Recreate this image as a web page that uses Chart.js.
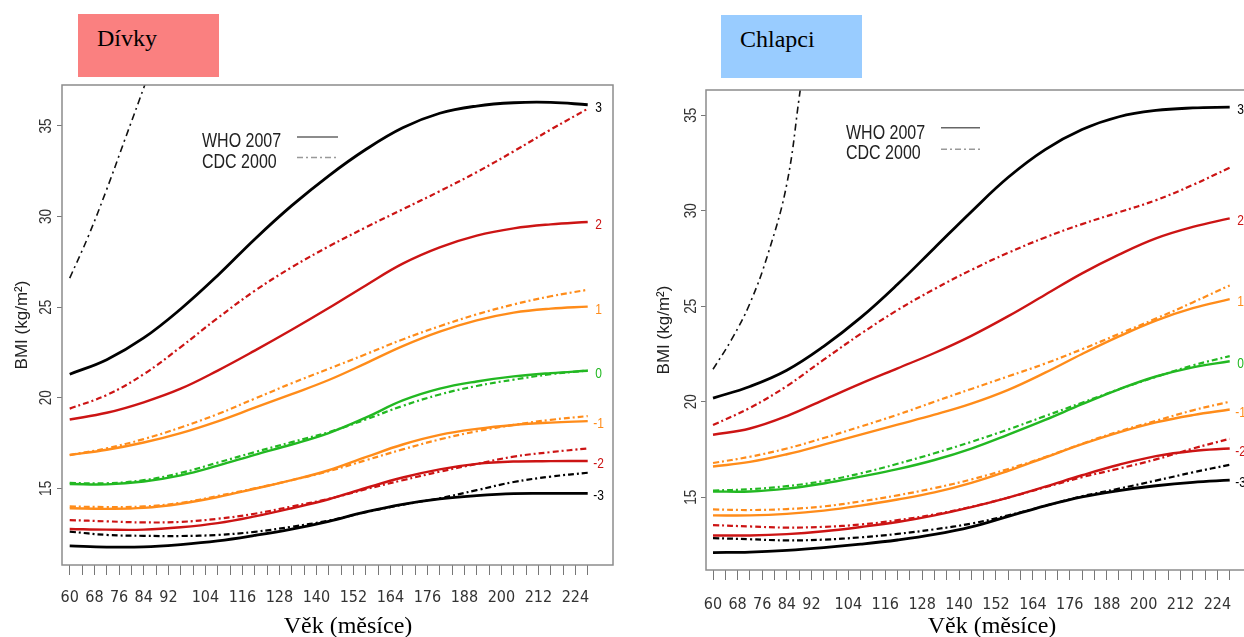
<!DOCTYPE html>
<html>
<head>
<meta charset="utf-8">
<script src="https://cdn.jsdelivr.net/npm/chart.js@4.4.1/dist/chart.umd.min.js"></script>
<style>
  html, body { margin: 0; padding: 0; background: #fff; width: 1244px; height: 637px; overflow: hidden; position: relative; }
  canvas { position: absolute; top: 0; }
  #girls { left: 0; }
  #boys { left: 640px; }
  .tag { position: absolute; height: 63px; width: 141px; }
  .tag span, .xtitle { position: absolute; font-family: 'Liberation Serif', 'Times New Roman', serif; font-size: 24px; line-height: 24px; color: #000; white-space: nowrap; }
  #tagGirls { left: 78px; top: 14px; background: #fa8080; }
  #tagBoys { left: 721px; top: 15px; background: #99ccff; }
  .tag span { left: 19px; top: 12px; }
  .xtitle { top: 613px; width: 300px; text-align: center; }
</style>
</head>
<body>
<canvas id="girls" width="640" height="637"></canvas>
<canvas id="boys" width="620" height="637"></canvas>
<div class="tag" id="tagGirls"><span>Dívky</span></div>
<div class="tag" id="tagBoys"><span>Chlapci</span></div>
<div class="xtitle" style="left:198px">Věk (měsíce)</div>
<div class="xtitle" style="left:842px">Věk (měsíce)</div>
<script>
const months = [60, 72, 84, 96, 108, 120, 132, 144, 156, 168, 180, 192, 204, 216, 228];
const xTickLabels = [60, 68, 76, 84, 92, 104, 116, 128, 140, 152, 164, 176, 188, 200, 212, 224];
const yTickValues = [15, 20, 25, 30, 35];
const zLabels = ['3', '2', '1', '0', '-1', '-2', '-3'];

// girls - WHO 2007 (solid), z = 3 .. -3
const girlsWho3 = [21.3, 22.1, 23.3, 24.9, 26.75, 28.75, 30.6, 32.25, 33.7, 34.9, 35.7, 36.1, 36.28, 36.3, 36.17];
const girlsWho2 = [18.8, 19.17, 19.75, 20.5, 21.5, 22.6, 23.75, 24.95, 26.2, 27.4, 28.3, 28.95, 29.35, 29.57, 29.7];
const girlsWho1 = [16.84, 17.13, 17.53, 18.05, 18.7, 19.45, 20.2, 20.98, 21.9, 22.85, 23.65, 24.27, 24.7, 24.92, 25.03];
const girlsWho0 = [15.24, 15.22, 15.38, 15.72, 16.25, 16.85, 17.42, 18.05, 18.9, 19.85, 20.5, 20.9, 21.18, 21.36, 21.49];
const girlsWhoM1 = [13.9, 13.87, 13.92, 14.15, 14.52, 14.98, 15.45, 16.0, 16.72, 17.42, 17.95, 18.28, 18.5, 18.63, 18.71];
const girlsWhoM2 = [12.76, 12.72, 12.72, 12.85, 13.08, 13.45, 13.9, 14.4, 15.02, 15.6, 16.05, 16.35, 16.48, 16.5, 16.51];
const girlsWhoM3 = [11.82, 11.76, 11.77, 11.9, 12.1, 12.4, 12.75, 13.18, 13.7, 14.12, 14.42, 14.6, 14.71, 14.72, 14.72];

// girls - CDC 2000 (dash-dot); z = 3 leaves the plot early
const girlsCdc3Months = [60, 66, 72, 78, 84, 90];
const girlsCdc3 = [26.6, 28.9, 31.5, 34.3, 37.1, 40.0];
const girlsCdc2 = [19.4, 20.15, 21.3, 22.8, 24.4, 25.9, 27.2, 28.35, 29.4, 30.4, 31.4, 32.45, 33.6, 34.8, 35.95];
const girlsCdc1 = [16.84, 17.21, 17.72, 18.36, 19.1, 19.95, 20.8, 21.6, 22.4, 23.22, 23.95, 24.6, 25.15, 25.6, 25.96];
const girlsCdc0 = [15.3, 15.28, 15.45, 15.85, 16.42, 17.0, 17.55, 18.1, 18.8, 19.55, 20.18, 20.65, 21.0, 21.3, 21.5];
const girlsCdcM1 = [14.0, 13.97, 14.0, 14.2, 14.58, 15.0, 15.45, 15.95, 16.55, 17.15, 17.7, 18.15, 18.5, 18.78, 18.99];
const girlsCdcM2 = [13.25, 13.18, 13.12, 13.15, 13.32, 13.6, 14.0, 14.42, 14.95, 15.45, 15.92, 16.35, 16.75, 17.0, 17.2];
const girlsCdcM3 = [12.61, 12.43, 12.38, 12.37, 12.43, 12.6, 12.88, 13.22, 13.68, 14.1, 14.45, 14.9, 15.35, 15.65, 15.86];

// boys - WHO 2007
const boysWho3 = [20.19, 20.8, 21.65, 22.9, 24.4, 26.15, 28.05, 29.95, 31.75, 33.2, 34.25, 34.92, 35.25, 35.38, 35.42];
const boysWho2 = [18.27, 18.6, 19.25, 20.1, 20.95, 21.75, 22.55, 23.45, 24.48, 25.6, 26.72, 27.7, 28.55, 29.15, 29.6];
const boysWho1 = [16.61, 16.85, 17.25, 17.75, 18.28, 18.8, 19.32, 19.9, 20.62, 21.52, 22.5, 23.42, 24.25, 24.9, 25.37];
const boysWho0 = [15.3, 15.3, 15.45, 15.72, 16.08, 16.47, 16.95, 17.55, 18.28, 19.05, 19.87, 20.65, 21.32, 21.8, 22.12];
const boysWhoM1 = [14.05, 14.05, 14.13, 14.3, 14.56, 14.88, 15.25, 15.75, 16.38, 17.08, 17.78, 18.4, 18.92, 19.3, 19.59];
const boysWhoM2 = [13.0, 13.0, 13.07, 13.22, 13.44, 13.7, 14.05, 14.48, 14.98, 15.55, 16.15, 16.7, 17.15, 17.42, 17.55];
const boysWhoM3 = [12.1, 12.13, 12.22, 12.36, 12.54, 12.76, 13.05, 13.45, 14.0, 14.55, 15.02, 15.35, 15.6, 15.78, 15.89];

// boys - CDC 2000
const boysCdc3Months = [60, 66, 72, 78, 84, 88, 92];
const boysCdc3 = [21.7, 23.25, 25.15, 27.8, 31.4, 35.9, 40.8];
const boysCdc2 = [18.78, 19.68, 20.82, 22.2, 23.55, 24.8, 25.9, 26.9, 27.8, 28.6, 29.3, 29.92, 30.55, 31.35, 32.25];
const boysCdc1 = [16.79, 17.12, 17.55, 18.1, 18.7, 19.32, 20.0, 20.67, 21.33, 22.0, 22.75, 23.55, 24.35, 25.2, 26.09];
const boysCdc0 = [15.35, 15.42, 15.58, 15.85, 16.25, 16.75, 17.3, 17.9, 18.55, 19.25, 19.95, 20.65, 21.3, 21.9, 22.39];
const boysCdcM1 = [14.36, 14.33, 14.38, 14.52, 14.78, 15.1, 15.48, 15.93, 16.48, 17.1, 17.8, 18.45, 19.0, 19.55, 20.0];
const boysCdcM2 = [13.54, 13.47, 13.41, 13.45, 13.57, 13.8, 14.1, 14.5, 14.98, 15.52, 16.05, 16.5, 16.98, 17.55, 18.06];
const boysCdcM3 = [12.86, 12.8, 12.74, 12.78, 12.9, 13.08, 13.32, 13.62, 14.05, 14.55, 15.05, 15.45, 15.87, 16.3, 16.7];

const zColors = ['#000000', '#cc1414', '#ff8c1a', '#22b822', '#ff8c1a', '#cc1414', '#000000'];
const sans = "'Liberation Sans', Arial, sans-serif";
const tickFont = "'Liberation Sans Narrow', 'DejaVu Sans Condensed', 'Liberation Sans', Arial, sans-serif";

// tick marks every 4 months, labels only where the figure has them
const tickMonths = [];
for (let m = 60; m <= 228; m += 4) tickMonths.push(m);

function toPoints(xs, ys) {
  return xs.map((x, i) => ({ x: x, y: ys[i] }));
}

// condensed text, like the R figure
function narrowText(ctx, text, x, y, size, align, color, rot) {
  ctx.save();
  ctx.translate(x, y);
  if (rot) ctx.rotate(rot);
  ctx.scale(0.8, 1);
  ctx.font = size + 'px ' + sans;
  ctx.fillStyle = color;
  ctx.textAlign = align;
  ctx.textBaseline = rot ? 'middle' : 'alphabetic';
  ctx.fillText(text, 0, 0);
  ctx.restore();
}

function makePanel(id, geom, who, cdc, cdc3Months, cdc3) {
  const datasets = [];
  who.forEach((vals, i) => datasets.push({
    data: toPoints(months, vals),
    borderColor: zColors[i],
    borderWidth: (i === 0 || i === 6) ? 2.8 : 2.4
  }));
  cdc.forEach((vals, k) => datasets.push({
    data: toPoints(months, vals),
    borderColor: zColors[k + 1],
    borderWidth: 2.2,
    borderDash: [6, 3, 2, 3]
  }));
  datasets.push({
    data: toPoints(cdc3Months, cdc3),
    borderColor: '#111111',
    borderWidth: 1.6,
    borderDash: [7, 4, 2, 4]
  });

  const decor = {
    id: 'decor',
    afterDraw(chart) {
      const ctx = chart.ctx;
      const ca = chart.chartArea;
      const xs = chart.scales.x;
      const ys = chart.scales.y;
      // plot box
      ctx.save();
      ctx.strokeStyle = '#8c8c8c';
      ctx.lineWidth = 1.5;
      ctx.strokeRect(ca.left, ca.top, ca.right - ca.left, ca.bottom - ca.top);
      ctx.restore();
      // rotated y tick labels
      yTickValues.forEach(v => narrowText(ctx, String(v), geom.yLabelX, ys.getPixelForValue(v), 17, 'center', '#333', -Math.PI / 2));
      // z labels at the end of the WHO curves
      who.forEach((vals, i) => narrowText(ctx, zLabels[i], xs.getPixelForValue(231.5),
        ys.getPixelForValue(vals[vals.length - 1]) + 7, 15, 'center', zColors[i]));
      // legend
      const lg = geom.legend;
      narrowText(ctx, 'WHO 2007', lg.x, lg.y1, 20, 'left', '#222');
      narrowText(ctx, 'CDC 2000', lg.x, lg.y2, 20, 'left', '#222');
      ctx.save();
      ctx.strokeStyle = '#666';
      ctx.lineWidth = 1.5;
      ctx.beginPath();
      ctx.moveTo(lg.lx1, lg.ly1); ctx.lineTo(lg.lx2, lg.ly1);
      ctx.stroke();
      ctx.strokeStyle = '#999';
      ctx.setLineDash([6, 3, 2, 3]);
      ctx.beginPath();
      ctx.moveTo(lg.lx1, lg.ly2); ctx.lineTo(lg.lx2, lg.ly2);
      ctx.stroke();
      ctx.restore();
    }
  };

  return new Chart(document.getElementById(id), {
    type: 'line',
    data: { datasets },
    plugins: [decor],
    options: {
      responsive: false,
      animation: false,
      devicePixelRatio: 1,
      layout: { autoPadding: false, padding: { top: geom.padTop, right: geom.padRight, left: 0, bottom: 0 } },
      elements: {
        point: { radius: 0 },
        line: { tension: 0.4, fill: false, borderCapStyle: 'butt' }
      },
      plugins: { legend: { display: false }, tooltip: { enabled: false }, title: { display: false } },
      scales: {
        x: {
          type: 'linear',
          min: geom.xMin,
          max: geom.xMax,
          afterBuildTicks: s => { s.ticks = tickMonths.map(v => ({ value: v })); },
          afterFit: s => { s.height = geom.xHeight; },
          border: { display: false },
          grid: { drawOnChartArea: false, drawTicks: true, tickLength: 10, color: '#777', lineWidth: 1 },
          ticks: {
            autoSkip: false,
            maxRotation: 0,
            padding: geom.tickPad,
            color: '#333',
            font: { family: tickFont, size: 16 },
            callback: v => xTickLabels.includes(v) ? String(v) : ''
          }
        },
        y: {
          type: 'linear',
          min: geom.yMin,
          max: geom.yMax,
          afterBuildTicks: s => { s.ticks = yTickValues.map(v => ({ value: v })); },
          afterFit: s => { s.width = geom.yWidth; },
          border: { display: false },
          grid: { drawOnChartArea: false, drawTicks: true, tickLength: 5, color: '#777', lineWidth: 1 },
          ticks: { display: false },
          title: {
            display: true,
            text: 'BMI (kg/m²)',
            color: '#222',
            font: { family: sans, size: 17 },
            padding: { top: geom.titlePad, bottom: 0 }
          }
        }
      }
    }
  });
}

makePanel('girls', {
  xMin: 57.5, xMax: 236.2, yMin: 10.77, yMax: 37.26,
  padTop: 85, padRight: 27, yWidth: 62, xHeight: 72, titlePad: 12, yLabelX: 46, tickPad: 13,
  legend: { x: 202, y1: 147, y2: 168, lx1: 297, lx2: 338, ly1: 137, ly2: 157.5 }
}, [girlsWho3, girlsWho2, girlsWho1, girlsWho0, girlsWhoM1, girlsWhoM2, girlsWhoM3],
   [girlsCdc2, girlsCdc1, girlsCdc0, girlsCdcM1, girlsCdcM2, girlsCdcM3],
   girlsCdc3Months, girlsCdc3);

makePanel('boys', {
  xMin: 57.72, xMax: 234.6, yMin: 11.19, yMax: 36.32,
  padTop: 90, padRight: 10, yWidth: 66, xHeight: 67, titlePad: 14, yLabelX: 51, tickPad: 15,
  legend: { x: 206, y1: 138.5, y2: 159, lx1: 301, lx2: 340, ly1: 127.7, ly2: 149.3 }
}, [boysWho3, boysWho2, boysWho1, boysWho0, boysWhoM1, boysWhoM2, boysWhoM3],
   [boysCdc2, boysCdc1, boysCdc0, boysCdcM1, boysCdcM2, boysCdcM3],
   boysCdc3Months, boysCdc3);
</script>
</body>
</html>
